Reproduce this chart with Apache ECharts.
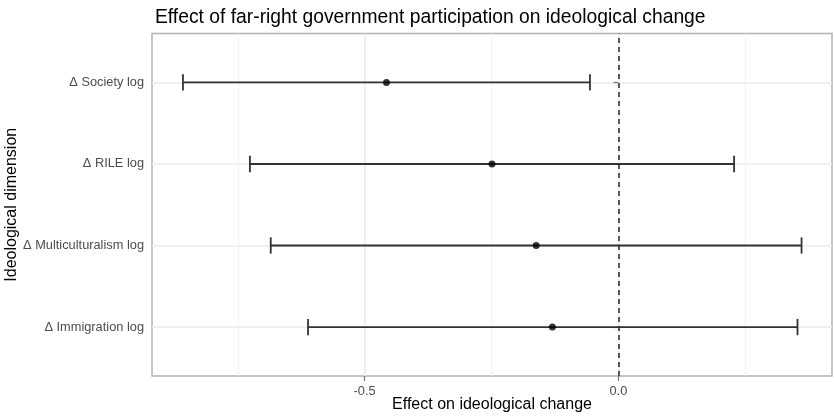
<!DOCTYPE html>
<html>
<head>
<meta charset="utf-8">
<script src="https://cdn.jsdelivr.net/npm/echarts@6/dist/echarts.min.js"></script>
<style>html,body{margin:0;padding:0;background:#fff;}#c{width:834px;height:416px;}</style>
</head>
<body>
<div id="c"></div>
<script>
const categories = ['Δ Immigration log', 'Δ Multiculturalism log', 'Δ RILE log', 'Δ Society log'];
const estimates = [-0.130, -0.162, -0.249, -0.457];
const lowerCI = [-0.6115, -0.685, -0.726, -0.858];
const upperCI = [0.353, 0.361, 0.228, -0.056];
const xTickValues = [-0.5, 0.0];
const xMinorGrid = [-0.75, -0.25, 0.25];
const yPositions = [1, 2, 3, 4];

const FONT = 'Liberation Sans, Arial, sans-serif';
const chart = echarts.init(document.getElementById('c'));

const barData = categories.map((c, i) => [lowerCI[i], upperCI[i], yPositions[i]]);
const pointData = categories.map((c, i) => [estimates[i], yPositions[i]]);

chart.setOption({
  animation: false,
  backgroundColor: '#fff',
  title: {
    text: 'Effect of far-right government participation on ideological change',
    left: 150, top: 3,
    textStyle: { fontFamily: FONT, fontSize: 19.3, fontWeight: 'normal', color: '#000' }
  },
  grid: {
    left: 152, right: 2, top: 33.5, bottom: 40,
    outerBoundsMode: 'none', containLabel: false,
    show: true, borderColor: '#b3b3b3', borderWidth: 1.5, backgroundColor: 'transparent'
  },
  xAxis: [{
    type: 'value', min: -0.919, max: 0.421,
    name: 'Effect on ideological change', nameLocation: 'middle', nameGap: 21, nameMoveOverlap: false,
    nameTextStyle: { fontFamily: FONT, fontSize: 16, color: '#000' },
    axisLine: { show: false },
    axisTick: { show: true, length: 5, customValues: xTickValues, lineStyle: { color: '#777', width: 1.2 } },
    axisLabel: { customValues: xTickValues, margin: 8.5, fontFamily: FONT, fontSize: 12.8, color: '#4d4d4d',
      formatter: v => v.toFixed(1) },
    splitLine: { show: true, lineStyle: { color: '#ebebeb', width: 1.5 } }
  }, {
    type: 'value', min: -0.919, max: 0.421, position: 'bottom',
    axisLine: { show: false },
    axisTick: { show: false, customValues: xMinorGrid },
    axisLabel: { show: false, customValues: xMinorGrid },
    splitLine: { show: true, lineStyle: { color: '#f2f2f2', width: 1 } }
  }],
  yAxis: {
    type: 'value', min: 0.4, max: 4.6,
    name: 'Ideological dimension', nameLocation: 'middle', nameGap: 132, nameRotate: 90, nameMoveOverlap: false,
    nameTextStyle: { fontFamily: FONT, fontSize: 16, color: '#000' },
    axisLine: { show: false },
    axisTick: { show: true, length: 5, customValues: yPositions, lineStyle: { color: '#777', width: 1.2 } },
    axisLabel: { customValues: yPositions, margin: 8, fontFamily: FONT, fontSize: 12.8, color: '#4d4d4d',
      formatter: v => categories[Math.round(v) - 1] || '' },
    splitLine: { show: true, lineStyle: { color: '#ebebeb', width: 1.5 } }
  },
  series: [{
    type: 'custom',
    xAxisIndex: 0,
    data: barData,
    encode: { x: [0, 1], y: 2 },
    renderItem: function (params, api) {
      const lo = api.coord([api.value(0), api.value(2)]);
      const hi = api.coord([api.value(1), api.value(2)]);
      const h = api.size([0, 0.2])[1] / 2;
      const style = { stroke: '#333', lineWidth: 1.8 };
      return {
        type: 'group',
        children: [
          { type: 'line', shape: { x1: lo[0], y1: lo[1], x2: hi[0], y2: hi[1] }, style: style },
          { type: 'line', shape: { x1: lo[0], y1: lo[1] - h, x2: lo[0], y2: lo[1] + h }, style: style },
          { type: 'line', shape: { x1: hi[0], y1: hi[1] - h, x2: hi[0], y2: hi[1] + h }, style: style }
        ]
      };
    },
    z: 3
  }, {
    type: 'scatter',
    xAxisIndex: 0,
    data: pointData,
    symbol: 'circle',
    symbolSize: 7,
    itemStyle: { color: '#000' },
    z: 4,
    markLine: {
      silent: true, symbol: 'none', label: { show: false },
      lineStyle: { color: '#333', width: 1.6, type: [5, 4] },
      data: [{ xAxis: 0 }]
    }
  }]
});
</script>
</body>
</html>
